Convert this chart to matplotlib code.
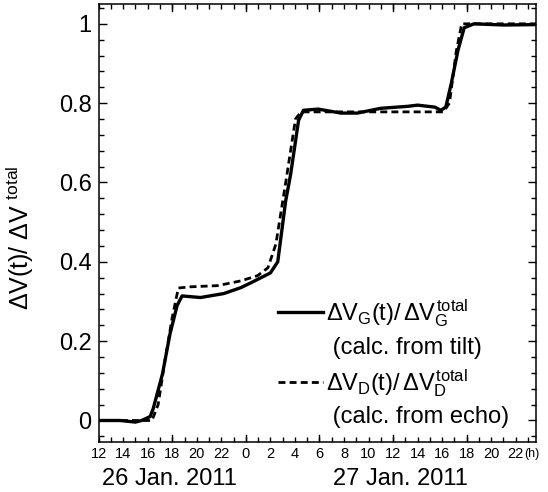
import matplotlib
matplotlib.use('Agg')
import matplotlib.pyplot as plt
from matplotlib.lines import Line2D
from matplotlib.ticker import MultipleLocator, FixedLocator, FixedFormatter
import matplotlib.transforms as mtransforms

plt.rcParams['font.family'] = ['Liberation Sans', 'DejaVu Sans']
plt.rcParams['mathtext.fontset'] = 'custom'
plt.rcParams['mathtext.rm'] = 'Liberation Sans'
plt.rcParams['mathtext.it'] = 'Liberation Sans'
plt.rcParams['mathtext.bf'] = 'Liberation Sans:bold'

# hours since 12:00 on 26 Jan. 2011
hours_tilt = [0, 1.75, 3.0, 3.5, 4.2, 4.45, 5.2, 5.83, 6.4, 6.8, 8.3, 10.2, 11.6,
              12.6, 14.0, 14.6, 15.25, 15.65, 16.3, 16.7, 17.9, 19.75, 21.1, 23.0,
              25.2, 26.0, 27.4, 27.9, 28.3, 28.75, 29.3, 29.8, 30.6, 33.0, 35.65]
vals_tilt = [0.0, 0.0, -0.004, 0.0, 0.01, 0.03, 0.117, 0.22, 0.29, 0.314, 0.31, 0.32, 0.335,
             0.35, 0.372, 0.40, 0.554, 0.62, 0.757, 0.782, 0.785, 0.775, 0.775, 0.787,
             0.792, 0.795, 0.79, 0.782, 0.79, 0.85, 0.934, 0.99, 1.0, 0.997, 0.998]

hours_echo = [0, 3.4, 4.35, 4.85, 5.4, 6.0, 6.5, 7.5, 9.7, 11.6, 12.95, 13.8, 14.45,
              15.25, 16.05, 16.5, 27.9, 28.1, 28.6, 29.15, 29.6, 35.65]
vals_echo = [0.0, 0.0, 0.0, 0.04, 0.15, 0.26, 0.334, 0.337, 0.34, 0.352, 0.365, 0.385, 0.445,
             0.60, 0.76, 0.778, 0.778, 0.778, 0.80, 0.93, 1.0, 1.0]

xtick_pos = list(range(0, 36, 2))
xtick_labels = ['12', '14', '16', '18', '20', '22', '0', '2', '4', '6', '8', '10',
                '12', '14', '16', '18', '20', '22']
ytick_pos = [0, 0.2, 0.4, 0.6, 0.8, 1.0]
ytick_labels = ['0', '0.2', '0.4', '0.6', '0.8', '1']
day_labels = ['26 Jan. 2011', '27 Jan. 2011']
day_centers = [5.8, 24.6]

fig = plt.figure(figsize=(5.48, 4.92), dpi=100)
ax = fig.add_axes([0.180, 0.1026, 0.798, 0.8893])

ax.plot(hours_tilt, vals_tilt, color='black', lw=2.4, solid_joinstyle='round')
ax.plot(hours_echo, vals_echo, color='black', lw=2.0, linestyle=(0, (2.5, 1.5)))

ax.set_xlim(0, 35.65)
ax.set_ylim(-0.053, 1.05)

ax.xaxis.set_major_locator(FixedLocator(xtick_pos))
ax.xaxis.set_major_formatter(FixedFormatter(xtick_labels))
ax.xaxis.set_minor_locator(MultipleLocator(1))
ax.yaxis.set_major_locator(FixedLocator(ytick_pos))
ax.yaxis.set_major_formatter(FixedFormatter(ytick_labels))
ax.yaxis.set_minor_locator(MultipleLocator(0.04))

ax.tick_params(which='both', direction='in', top=True, right=True, width=1.0)
ax.tick_params(axis='x', which='major', length=3.5, labelsize=10.5, pad=4)
ax.tick_params(axis='x', which='minor', length=3.5)
ax.tick_params(axis='y', which='major', length=6, labelsize=17, pad=5)
ax.tick_params(axis='y', which='minor', length=3.5)
# longer ticks every 6 hours
for h in [6, 12, 18, 24, 30]:
    ax.axvline(h, ymin=0, ymax=0.016, color='black', lw=1.0)
    ax.axvline(h, ymin=0.984, ymax=1, color='black', lw=1.0)
for sp in ax.spines.values():
    sp.set_linewidth(1.1)

ax.set_ylabel(r'$\Delta V(t)/\ \Delta V^{\ total}$', fontsize=18)
ax.yaxis.set_label_coords(-0.143, 0.465)

trans = mtransforms.blended_transform_factory(ax.transData, ax.transAxes)
for lab, c in zip(day_labels, day_centers):
    ax.text(c, -0.085, lab, transform=trans, ha='center', va='center', fontsize=17)
ax.text(0.9735, -0.0145, '(h)', transform=ax.transAxes, ha='left', va='top',
        fontsize=9)

handles = [Line2D([], [], color='black', lw=2.4),
           Line2D([], [], color='none'),
           Line2D([], [], color='black', lw=2.0, linestyle=(0, (2.5, 1.5))),
           Line2D([], [], color='none')]
labels = [r'$\Delta V_G(t)/\,\Delta V_G^{total}$', ' (calc. from tilt)',
          r'$\Delta V_D(t)/\,\Delta V_D^{total}$', ' (calc. from echo)']
ax.legend(handles, labels, loc='lower left', bbox_to_anchor=(0.41, 0.03),
          frameon=False, fontsize=17, handlelength=1.9, handletextpad=0.15,
          labelspacing=0.33, borderpad=0, borderaxespad=0)

fig.savefig('out.png', dpi=100)
